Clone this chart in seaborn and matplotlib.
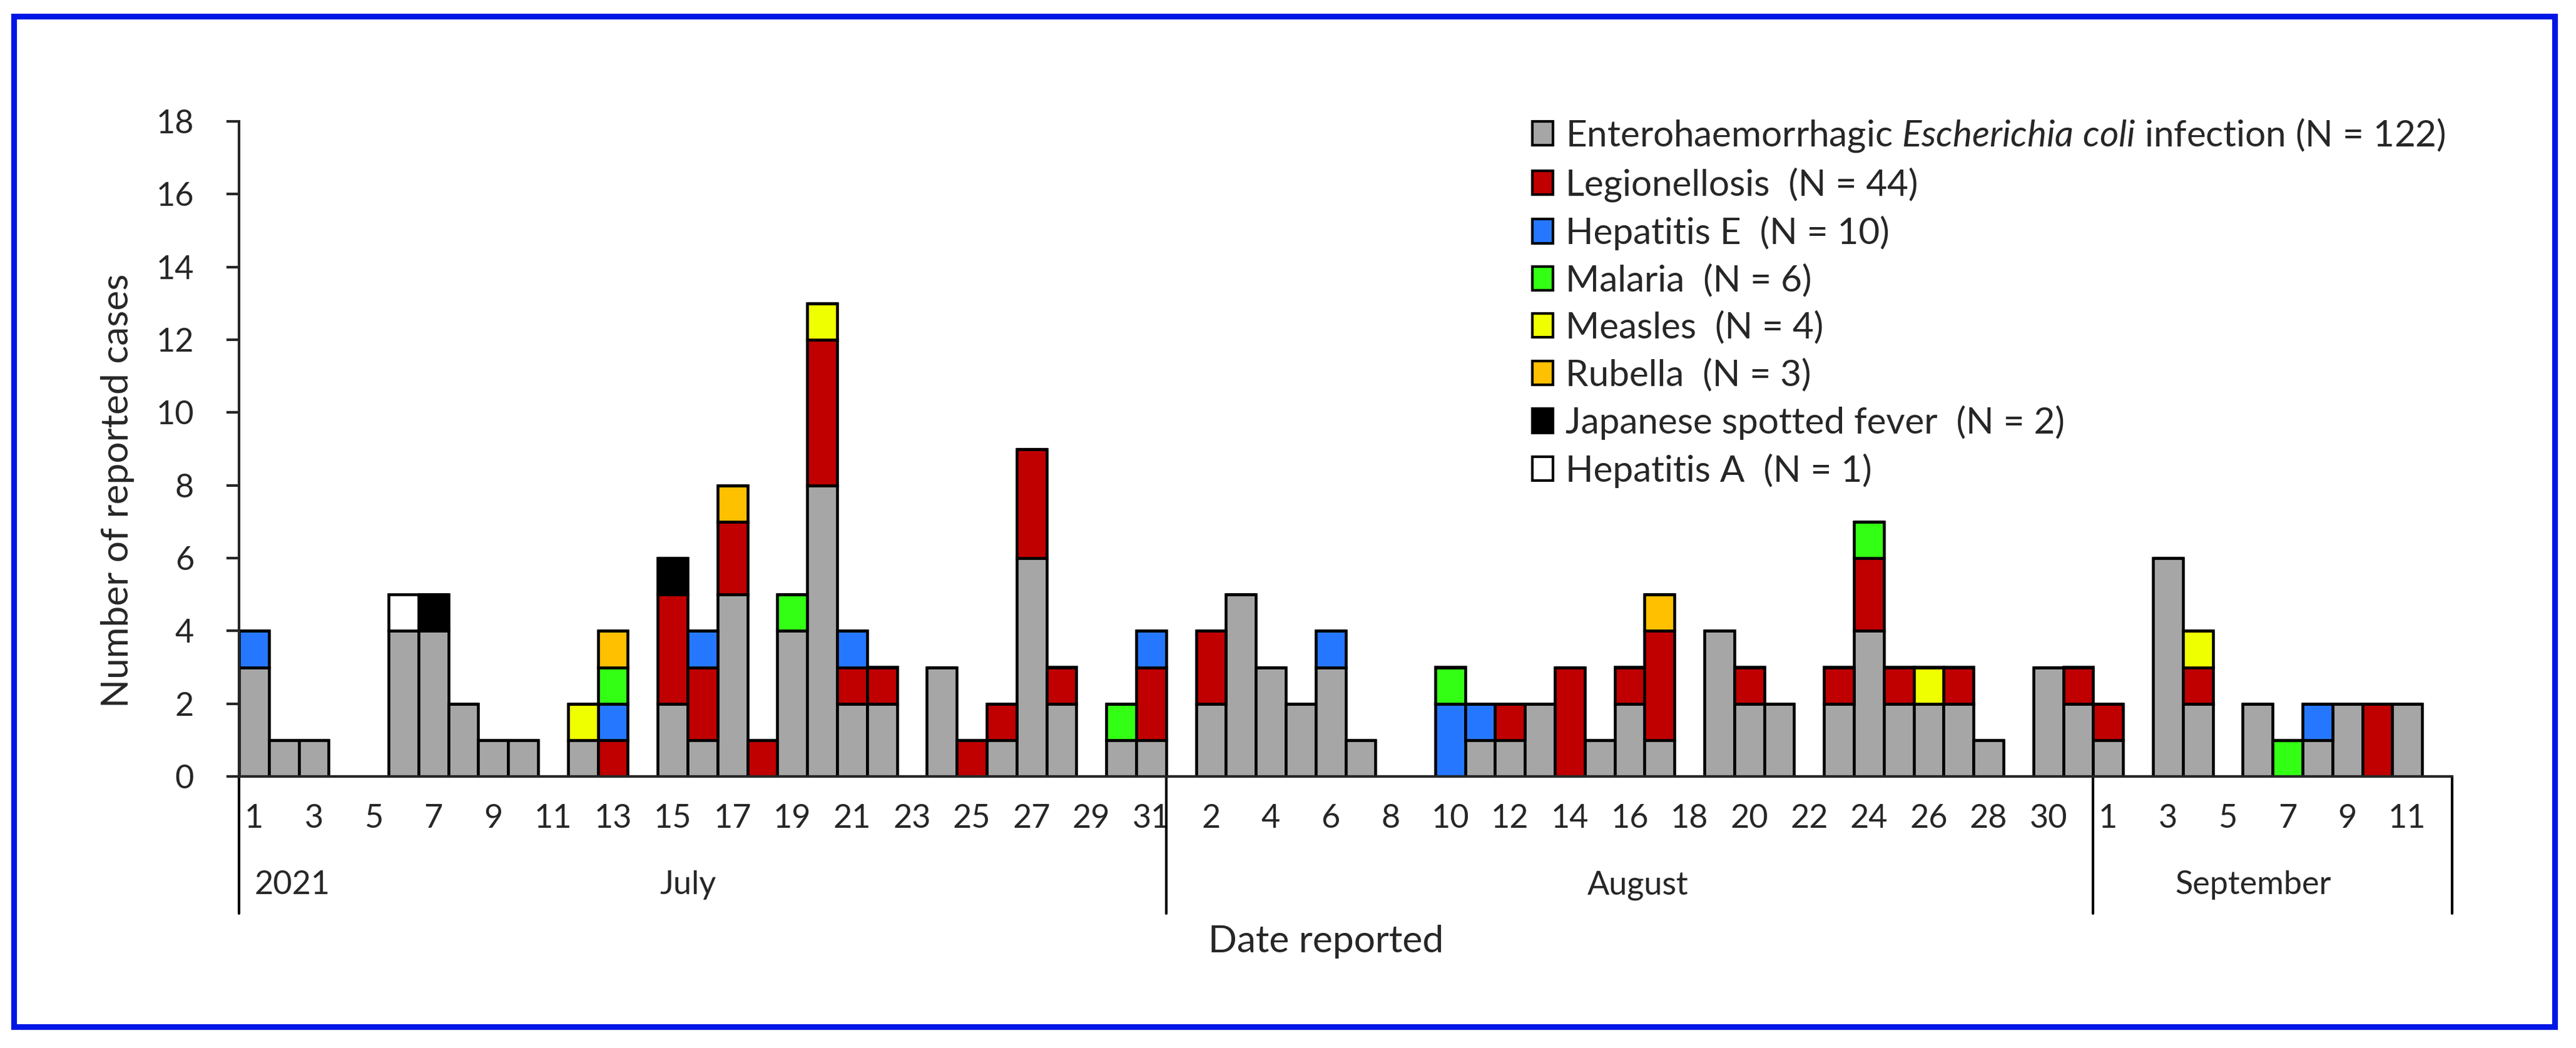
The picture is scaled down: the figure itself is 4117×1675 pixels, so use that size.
import pandas as pd
import seaborn as sns
import matplotlib.pyplot as plt
from matplotlib.patches import Patch, Rectangle

# tarih etiketleri: 1 Temmuz - 12 Eylul 2021
months = ['July', 'August', 'September']
month_days = [31, 31, 12]
month_label_x = [14.52, 46.28, 66.84]   # ay etiketlerinin yatay konumu (kategori ekseni)
day_labels = [str(d) for n in month_days for d in range(1, n + 1)]

# her hastalik icin gunluk vaka sayilari (Temmuz | Agustos | Eylul)
ehec = [3, 1, 1, 0, 0, 4, 4, 2, 1, 1, 0, 1, 0, 0, 2, 1, 5, 0, 4, 8, 2, 2, 0, 3, 0, 1, 6, 2, 0, 1, 1,
        0, 2, 5, 3, 2, 3, 1, 0, 0, 0, 1, 1, 2, 0, 1, 2, 1, 0, 4, 2, 2, 0, 2, 4, 2, 2, 2, 1, 0, 3, 2,
        1, 0, 6, 2, 0, 2, 0, 1, 2, 0, 2, 0]
legionellosis = [0, 0, 0, 0, 0, 0, 0, 0, 0, 0, 0, 0, 1, 0, 3, 2, 2, 1, 0, 4, 1, 1, 0, 0, 1, 1, 3, 1, 0, 0, 2,
                 0, 2, 0, 0, 0, 0, 0, 0, 0, 0, 0, 1, 0, 3, 0, 1, 3, 0, 0, 1, 0, 0, 1, 2, 1, 0, 1, 0, 0, 0, 1,
                 1, 0, 0, 1, 0, 0, 0, 0, 0, 2, 0, 0]
hepatitis_e = [1, 0, 0, 0, 0, 0, 0, 0, 0, 0, 0, 0, 1, 0, 0, 1, 0, 0, 0, 0, 1, 0, 0, 0, 0, 0, 0, 0, 0, 0, 1,
               0, 0, 0, 0, 0, 1, 0, 0, 0, 2, 1, 0, 0, 0, 0, 0, 0, 0, 0, 0, 0, 0, 0, 0, 0, 0, 0, 0, 0, 0, 0,
               0, 0, 0, 0, 0, 0, 0, 1, 0, 0, 0, 0]
malaria = [0, 0, 0, 0, 0, 0, 0, 0, 0, 0, 0, 0, 1, 0, 0, 0, 0, 0, 1, 0, 0, 0, 0, 0, 0, 0, 0, 0, 0, 1, 0,
           0, 0, 0, 0, 0, 0, 0, 0, 0, 1, 0, 0, 0, 0, 0, 0, 0, 0, 0, 0, 0, 0, 0, 1, 0, 0, 0, 0, 0, 0, 0,
           0, 0, 0, 0, 0, 0, 1, 0, 0, 0, 0, 0]
measles = [0, 0, 0, 0, 0, 0, 0, 0, 0, 0, 0, 1, 0, 0, 0, 0, 0, 0, 0, 1, 0, 0, 0, 0, 0, 0, 0, 0, 0, 0, 0,
           0, 0, 0, 0, 0, 0, 0, 0, 0, 0, 0, 0, 0, 0, 0, 0, 0, 0, 0, 0, 0, 0, 0, 0, 0, 1, 0, 0, 0, 0, 0,
           0, 0, 0, 1, 0, 0, 0, 0, 0, 0, 0, 0]
rubella = [0, 0, 0, 0, 0, 0, 0, 0, 0, 0, 0, 0, 1, 0, 0, 0, 1, 0, 0, 0, 0, 0, 0, 0, 0, 0, 0, 0, 0, 0, 0,
           0, 0, 0, 0, 0, 0, 0, 0, 0, 0, 0, 0, 0, 0, 0, 0, 1, 0, 0, 0, 0, 0, 0, 0, 0, 0, 0, 0, 0, 0, 0,
           0, 0, 0, 0, 0, 0, 0, 0, 0, 0, 0, 0]
spotted_fever = [0, 0, 0, 0, 0, 0, 1, 0, 0, 0, 0, 0, 0, 0, 1, 0, 0, 0, 0, 0, 0, 0, 0, 0, 0, 0, 0, 0, 0, 0, 0,
                 0, 0, 0, 0, 0, 0, 0, 0, 0, 0, 0, 0, 0, 0, 0, 0, 0, 0, 0, 0, 0, 0, 0, 0, 0, 0, 0, 0, 0, 0, 0,
                 0, 0, 0, 0, 0, 0, 0, 0, 0, 0, 0, 0]
hepatitis_a = [0, 0, 0, 0, 0, 1, 0, 0, 0, 0, 0, 0, 0, 0, 0, 0, 0, 0, 0, 0, 0, 0, 0, 0, 0, 0, 0, 0, 0, 0, 0,
               0, 0, 0, 0, 0, 0, 0, 0, 0, 0, 0, 0, 0, 0, 0, 0, 0, 0, 0, 0, 0, 0, 0, 0, 0, 0, 0, 0, 0, 0, 0,
               0, 0, 0, 0, 0, 0, 0, 0, 0, 0, 0, 0]

diseases = ['EHEC', 'Legionellosis', 'Hepatitis E', 'Malaria', 'Measles', 'Rubella',
            'Japanese spotted fever', 'Hepatitis A']
series = [ehec, legionellosis, hepatitis_e, malaria, measles, rubella, spotted_fever, hepatitis_a]
legend_labels = ['Enterohaemorrhagic $\\it{Escherichia\\ coli}$ infection (N = 122)',
                 'Legionellosis  (N = 44)', 'Hepatitis E  (N = 10)', 'Malaria  (N = 6)',
                 'Measles  (N = 4)', 'Rubella  (N = 3)', 'Japanese spotted fever  (N = 2)',
                 'Hepatitis A  (N = 1)']
colors = ['#A6A6A6', '#C00000', '#2677FF', '#33FF14', '#F0FF00', '#FFC000', '#000000', '#FFFFFF']
palette = dict(zip(diseases, colors))

rows = []
for name, values in zip(diseases, series):
    for i, v in enumerate(values):
        rows.append({'idx': i, 'disease': name, 'count': v})
df = pd.DataFrame(rows)

sns.set_style('ticks')
plt.rcParams['font.family'] = ['Lato', 'DejaVu Sans']
plt.rcParams['mathtext.fontset'] = 'custom'
plt.rcParams['mathtext.rm'] = 'Lato'
plt.rcParams['mathtext.it'] = 'Lato:italic'

W, H = 4117, 1675
fig = plt.figure(figsize=(W / 300, H / 300), dpi=300)
ax = fig.add_axes([382 / W, 1 - 1241 / H, (3919 - 382) / W, (1241 - 194) / H])

# seaborn yigini ters sirayla ciziyor, EHEC altta kalsin diye sirayi ceviriyoruz
sns.histplot(data=df, x='idx', weights='count', hue='disease', hue_order=diseases[::-1],
             multiple='stack', discrete=True, palette=palette, edgecolor='black',
             linewidth=1.1, alpha=1, legend=False, ax=ax)

n_days = len(day_labels)
ax.set_xlim(-0.5, n_days - 0.5)
ax.set_ylim(0, 18)
ax.set_yticks(range(0, 19, 2))
ax.set_xticks(range(0, n_days, 2))
ax.set_xticklabels(day_labels[::2])
ax.set_xlabel('')
ax.set_ylabel('')
ax.tick_params(axis='x', length=0, pad=10.5, labelsize=12.5)
ax.tick_params(axis='y', length=4.8, width=1, pad=12.5, labelsize=12.5)
sns.despine(ax=ax)
for side in ['left', 'bottom']:
    ax.spines[side].set_linewidth(1)

# ay ayiricilari ve etiketleri
trans = ax.get_xaxis_transform()
edges = [-0.5]
for n in month_days:
    edges.append(edges[-1] + n)
for e in edges:
    ax.plot([e, e], [0, -0.209], color='black', lw=1, transform=trans, clip_on=False)
for m, x in zip(months, month_label_x):
    ax.text(x, -0.166, m, transform=trans, ha='center', va='center', fontsize=12.5)
ax.text(1.28, -0.166, '2021', transform=trans, ha='center', va='center', fontsize=12.5)

fig.text(188 / W, 1 - 784 / H, 'Number of reported cases', rotation=90,
         ha='center', va='center', fontsize=14.5)
fig.text(2119 / W, 1 - 1505 / H, 'Date reported', ha='center', va='center', fontsize=14.5)

handles = [Patch(facecolor=c, edgecolor='black', linewidth=1) for c in colors]
fig.legend(handles, legend_labels, loc='upper left', bbox_to_anchor=(2449 / W, 1 - 186 / H),
           frameon=False, fontsize=14, borderpad=0, borderaxespad=0,
           handlelength=0.57, handleheight=0.63, handletextpad=0.34, labelspacing=0.37)

fig.patches.append(Rectangle((22 / W, 1 - 1641 / H), 4061 / W, 1615 / H, transform=fig.transFigure,
                             fill=False, edgecolor='#0016E5', linewidth=2.2))

plt.savefig('out.png', dpi=300)
